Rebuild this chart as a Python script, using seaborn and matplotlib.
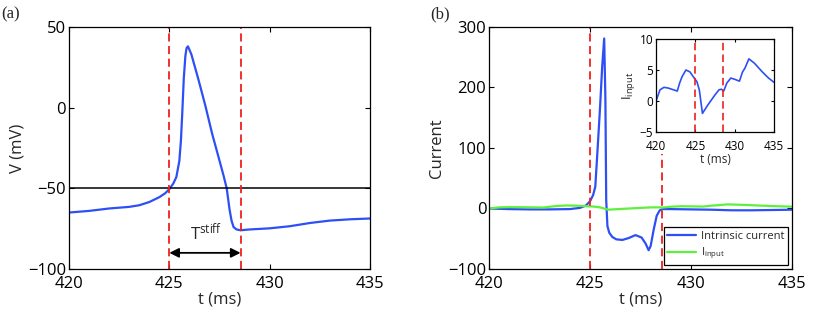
import numpy as np
import pandas as pd
import matplotlib
matplotlib.use("Agg")
import matplotlib.pyplot as plt
import seaborn as sns

sns.set_style("ticks")
plt.rcParams['font.family'] = ['Open Sans', 'DejaVu Sans']
plt.rcParams['mathtext.fontset'] = 'custom'
plt.rcParams['mathtext.rm'] = 'Open Sans'
plt.rcParams['mathtext.it'] = 'Open Sans'

# ---- data ----
# panel (a): membrane potential
t_v = [420, 421, 422, 423, 423.5, 424, 424.5, 424.8, 425.0, 425.2, 425.35, 425.5,
       425.58, 425.65, 425.72, 425.8, 425.86, 425.93, 426.1, 426.46, 426.8, 427.13,
       427.46, 427.7, 427.86, 428.0, 428.1, 428.2, 428.35, 428.55, 429, 430, 431,
       432, 433, 434, 435]
v_mv = [-65, -64, -62.5, -61.5, -60.5, -58.5, -55.5, -53, -50.5, -47, -43, -33,
        -20, -2, 18, 32, 37, 38, 33, 17, 1, -16,
        -31, -42, -50, -63, -70, -74, -75.5, -76, -75.5, -74.8, -73.5,
        -71.5, -70, -69.2, -68.7]
v_thresh = -50
t_spike_on = 425.0
t_spike_off = 428.55

# panel (b): intrinsic current
t_i = [420, 421, 422, 423, 424, 424.5, 424.8, 425.0, 425.15, 425.26, 425.4, 425.5,
       425.6, 425.7, 425.76, 425.8, 425.86, 425.95, 426.1, 426.3, 426.6, 426.9,
       427.25, 427.55, 427.75, 427.9, 428.0, 428.15, 428.3, 428.45, 428.6, 429,
       430, 431, 432, 433, 434, 435]
i_intr = [0, -1, -1.5, -1.5, -1, 1, 5, 12, 22, 36, 113, 170,
          234, 281, 180, 14, -29, -40, -47, -51, -52, -49,
          -44, -48, -58, -69, -62, -35, -12, -3, -1, -1,
          -1.5, -2, -3, -3, -2.5, -2]

# input current
t_in = [420, 420.5, 421, 421.5, 422, 422.7, 423, 423.3, 423.8, 424.3, 424.8, 425.2,
        425.5, 425.9, 426.5, 427, 427.5, 428, 428.3, 428.6, 429, 429.5, 430,
        430.6, 431, 431.3, 431.8, 432.5, 433.5, 434.3, 435]
i_in = [0, 1.8, 2.2, 2.1, 1.9, 1.6, 2.9, 3.9, 5.0, 4.7, 3.8, 3.1,
        1.8, -2.0, -0.8, 0.1, 1.0, 1.8, 1.9, 1.6, 2.9, 3.7, 3.5,
        3.2, 4.7, 5.3, 6.8, 6.1, 4.7, 3.7, 3.0]

xticks = [420, 425, 430, 435]

df_v = pd.DataFrame({'t': t_v, 'V': v_mv})
df_i = pd.DataFrame({'t': t_i, 'I': i_intr})
df_in = pd.DataFrame({'t': t_in, 'I': i_in})

blue = '#2d4ff5'
green = '#5ef03c'
red = '#ee2020'
dash = (0, (4.5, 2.5))

fig = plt.figure(figsize=(8.3, 3.1), dpi=100)
ax1 = fig.add_axes([0.0831, 0.1323, 0.3627, 0.7806])
ax2 = fig.add_axes([0.5892, 0.1323, 0.3651, 0.7806])
ax3 = fig.add_axes([0.7904, 0.5742, 0.1422, 0.30])


def style(ax, fs):
    ax.tick_params(direction='in', top=True, right=True, length=3.5, width=0.8,
                   labelsize=fs, colors='black', pad=2)
    ax.tick_params(axis='x', pad=5)
    for s in ax.spines.values():
        s.set_color('black')
        s.set_linewidth(0.9)


# ---- (a) ----
sns.lineplot(data=df_v, x='t', y='V', ax=ax1, color=blue, lw=1.6, estimator=None)
ax1.axhline(v_thresh, color='black', lw=1.1)
ax1.axvline(t_spike_on, color=red, lw=1.3, ls=dash)
ax1.axvline(t_spike_off, color=red, lw=1.3, ls=dash)
ax1.annotate('', xy=(t_spike_on, -90), xytext=(t_spike_off, -90),
             arrowprops=dict(arrowstyle='<|-|>', color='black', lw=1.3,
                             mutation_scale=14, shrinkA=0, shrinkB=0))
ax1.text(426.85, -84, r'T$^{\rm stiff}$', fontsize=12, ha='center', va='bottom')
ax1.set_xlim(420, 435)
ax1.set_ylim(-100, 50)
ax1.set_xticks(xticks)
ax1.set_yticks([-100, -50, 0, 50])
ax1.set_xlabel('t (ms)', fontsize=12, labelpad=0)
ax1.set_ylabel('V (mV)', fontsize=12, labelpad=2)
style(ax1, 12)

# ---- (b) ----
sns.lineplot(data=df_i, x='t', y='I', ax=ax2, color=blue, lw=1.6, estimator=None,
             label='Intrinsic current')
sns.lineplot(data=df_in, x='t', y='I', ax=ax2, color=green, lw=1.6, estimator=None,
             label=r'I$_{\rm input}$')
ax2.axvline(t_spike_on, color=red, lw=1.3, ls=dash)
ax2.axvline(t_spike_off, ymin=0, ymax=0.475, color=red, lw=1.3, ls=dash)
ax2.set_xlim(420, 435)
ax2.set_ylim(-100, 300)
ax2.set_xticks(xticks)
ax2.set_yticks([-100, 0, 100, 200, 300])
ax2.set_xlabel('t (ms)', fontsize=12, labelpad=0)
ax2.set_ylabel('Current', fontsize=12, labelpad=2)
style(ax2, 12)
leg = ax2.legend(loc='lower right', fontsize=8, frameon=True, fancybox=False,
                 framealpha=1, edgecolor='black', handlelength=2.6,
                 borderaxespad=0.35, labelspacing=0.3, handletextpad=0.4,
                 borderpad=0.35)
leg.get_frame().set_linewidth(0.9)

# ---- inset ----
sns.lineplot(data=df_in, x='t', y='I', ax=ax3, color=blue, lw=1.2, estimator=None)
ax3.axvline(t_spike_on, color=red, lw=1.2, ls=dash)
ax3.axvline(t_spike_off, color=red, lw=1.2, ls=dash)
ax3.set_xlim(420, 435)
ax3.set_ylim(-5, 10)
ax3.set_xticks(xticks)
ax3.set_yticks([-5, 0, 5, 10])
ax3.set_xlabel('t (ms)', fontsize=8.5, labelpad=0)
ax3.set_ylabel(r'I$_{\rm input}$', fontsize=9.5, labelpad=2)
style(ax3, 8.5)
ax3.tick_params(length=2.5, pad=2)
ax3.tick_params(axis='x', pad=6)
ax3.set_facecolor('white')

fig.text(0.002, 0.955, '(a)', fontsize=12, family='Liberation Serif', va='center')
fig.text(0.518, 0.955, '(b)', fontsize=12, family='Liberation Serif', va='center')

fig.savefig('out.png', dpi=100)
